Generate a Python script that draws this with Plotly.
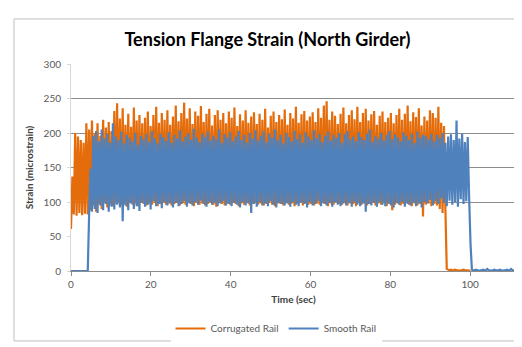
import numpy as np
import plotly.graph_objects as go

# sampling step of the recorded signals (seconds)
dt = 0.35

# Corrugated Rail strain (microstrain), sampled every dt from t = 0
corrugated = [
    61, 137, 82, 200, 80, 195, 84, 190, 81, 186, 83, 214, 82,
    205, 88, 218, 95, 200, 86, 214, 97, 196, 90, 219, 99, 208, 92, 216, 96, 203, 94, 232, 98,
    243, 100, 221, 95, 236, 97, 212, 93, 228, 99, 209, 96, 237, 98, 218, 94, 226, 100, 214, 97,
    222, 95, 231, 98, 210, 96, 226, 99, 238, 94, 215, 97, 229, 100, 219, 96, 233, 98, 212, 95,
    224, 97, 240, 99, 217, 95, 229, 98, 244, 96, 221, 100, 236, 97, 213, 94, 231, 99, 225, 96,
    239, 98, 216, 95, 228, 97, 235, 100, 211, 96, 226, 93, 233, 99, 219, 97, 229, 95, 214, 98,
    231, 96, 222, 99, 237, 97, 210, 94, 227, 98, 218, 96, 233, 100, 215, 95, 224, 97, 230, 99,
    213, 96, 228, 98, 219, 95, 235, 97, 208, 100, 225, 96, 231, 94, 216, 98, 226, 97, 220, 95,
    234, 99, 212, 96, 229, 98, 221, 94, 238, 97, 215, 100, 227, 95, 232, 98, 218, 96, 224, 97,
    230, 95, 216, 98, 236, 96, 222, 99, 240, 97, 246, 94, 219, 98, 231, 96, 225, 100, 213, 97,
    228, 96, 237, 99, 214, 95, 226, 98, 233, 97, 220, 94, 238, 99, 216, 96, 229, 98, 235, 95,
    218, 97, 227, 99, 232, 95, 212, 98, 225, 96, 231, 100, 216, 94, 222, 97, 229, 88, 214, 96,
    226, 98, 235, 95, 219, 97, 228, 99, 240, 96, 217, 94, 230, 98, 223, 95, 236, 97, 211, 79,
    224, 96, 218, 98, 233, 94, 229, 97, 222, 95, 238, 90, 215, 84, 210, 92,
    3, 2, 1, 2, 1, 1, 2, 1, 1, 0, 1, 1, 2, 1, 1, 1, 0, 1,
]

# Smooth Rail strain (microstrain), sampled every dt from t = 0
smooth = [
    0, 0, 0, 0, 0, 0, 0, 0, 0, 0, 0, 0, 0,
    84,
    148, 86, 196, 90, 203, 84, 188, 95, 205, 88, 192, 97, 199, 86, 186, 93, 214, 89, 195, 96,
    190, 92, 202, 72, 185, 95, 197, 88, 193, 98, 188, 90, 200, 94, 183, 87, 196, 99, 191, 93,
    198, 96, 187, 89, 203, 101, 192, 94, 185, 97, 199, 91, 194, 100, 189, 95, 201, 98, 186, 92,
    197, 99, 192, 94, 204, 97, 188, 101, 195, 93, 200, 98, 190, 95, 206, 100, 193, 96, 187, 102,
    199, 97, 194, 93, 202, 100, 189, 96, 196, 99, 191, 94, 205, 98, 186, 101, 198, 95, 193, 97,
    201, 94, 188, 99, 195, 96, 203, 92, 190, 100, 197, 95, 186, 98, 200, 84, 192, 97, 204, 93,
    189, 100, 196, 95, 202, 98, 187, 94, 199, 101, 193, 96, 205, 92, 190, 99, 197, 97, 185, 95,
    200, 98, 194, 93, 188, 100, 203, 96, 191, 94, 198, 99, 186, 97, 201, 92, 195, 100, 190, 95,
    204, 97, 192, 101, 199, 94, 187, 98, 196, 95, 202, 99, 189, 93, 197, 100, 193, 96, 200, 94,
    186, 98, 198, 95, 203, 99, 191, 93, 195, 100, 188, 96, 201, 94, 194, 98, 190, 86, 199, 97,
    205, 95, 187, 99, 196, 93, 192, 100, 200, 96, 189, 94, 197, 98, 203, 95, 191, 92, 198, 99,
    194, 96, 188, 100, 201, 93, 196, 97, 190, 95, 199, 99, 185, 94, 202, 98, 193, 92, 197, 100,
    196, 98, 191, 103, 199, 95, 188, 101, 197, 97, 193, 105, 200, 99, 186, 94,
    195, 102, 198, 96, 190, 100, 218, 93, 192, 104, 199, 97, 187, 101, 194, 108,
    40, 2,
    1, 1, 2, 1, 0, 1, 1, 2, 1, 1, 3, 1, 1, 0, 1, 2, 1, 1, 1, 2,
    1, 0, 1, 1, 2, 1, 1, 3, 1, 1, 1, 1,
]

series_names = ["Corrugated Rail", "Smooth Rail"]
series_colors = ["#E46C0A", "#4F81BD"]

x_ticks = [0, 20, 40, 60, 80, 100]
y_ticks = [0, 50, 100, 150, 200, 250, 300]
grid_ticks = [100, 150, 200, 250]

t_corr = np.arange(len(corrugated)) * dt
t_smooth = np.arange(len(smooth)) * dt

FONT = "Lato"

fig = go.Figure()
for name, color, t, vals in [
    (series_names[0], series_colors[0], t_corr, corrugated),
    (series_names[1], series_colors[1], t_smooth, smooth),
]:
    fig.add_trace(go.Scatter(
        x=t, y=vals, mode="lines", name=name,
        line=dict(color=color, width=2.2, simplify=False),
        hoverinfo="skip",
    ))

# invisible trace to hold the gridline axis
fig.add_trace(go.Scatter(x=[None], y=[None], yaxis="y2", showlegend=False, hoverinfo="skip"))

fig.update_layout(
    width=522, height=347,
    margin=dict(l=63, r=14, t=56, b=75),
    paper_bgcolor="white", plot_bgcolor="white",
    font=dict(family=FONT, color="#595959", size=10),
    title=dict(
        text="<b>Tension Flange Strain (North Girder)</b>",
        x=0.497, xanchor="center", y=1 - 32 / 347, yanchor="middle",
        font=dict(family=FONT, size=18, color="#000000"),
    ),
    xaxis=dict(
        range=[0, 111.5], tickvals=x_ticks, showgrid=False, zeroline=False,
        showline=True, linecolor="#8C8C8C", linewidth=1,
        ticks="outside", ticklen=4, tickcolor="#8C8C8C",
        tickfont=dict(size=10, color="#595959"),
        title=dict(text="<b>Time (sec)</b>", font=dict(size=10, color="#404040"), standoff=6),
    ),
    yaxis=dict(
        range=[0, 300], tickvals=y_ticks, showgrid=False, zeroline=False,
        showline=True, linecolor="#D9D9D9", linewidth=1,
        ticks="outside", ticklen=3, tickcolor="#D9D9D9",
        tickfont=dict(size=10, color="#595959"),
        ticklabelstandoff=4,
        title=dict(text="<b>Strain (microstrain)</b>", font=dict(size=10, color="#404040"), standoff=8),
    ),
    yaxis2=dict(
        range=[0, 300], tickvals=grid_ticks, overlaying="y", side="left",
        showgrid=True, gridcolor="#8C8C8C", gridwidth=1,
        showticklabels=False, zeroline=False, showline=False, layer="below traces",
    ),
    legend=dict(
        orientation="h", x=(268 - 63) / 445, xanchor="center",
        y=(272 - 332) / 216, yanchor="middle",
        font=dict(size=10, color="#595959"),
        itemwidth=30, tracegroupgap=0,
    ),
    showlegend=True,
    shapes=[dict(
        type="rect", xref="paper", yref="paper",
        x0=(6 - 63) / 445, x1=(516 - 63) / 445,
        y0=(272 - 345) / 216, y1=(272 - 9) / 216,
        line=dict(color="#BFBFBF", width=1), fillcolor="rgba(0,0,0,0)", layer="below",
    )],
)

fig.write_html("out.html")
